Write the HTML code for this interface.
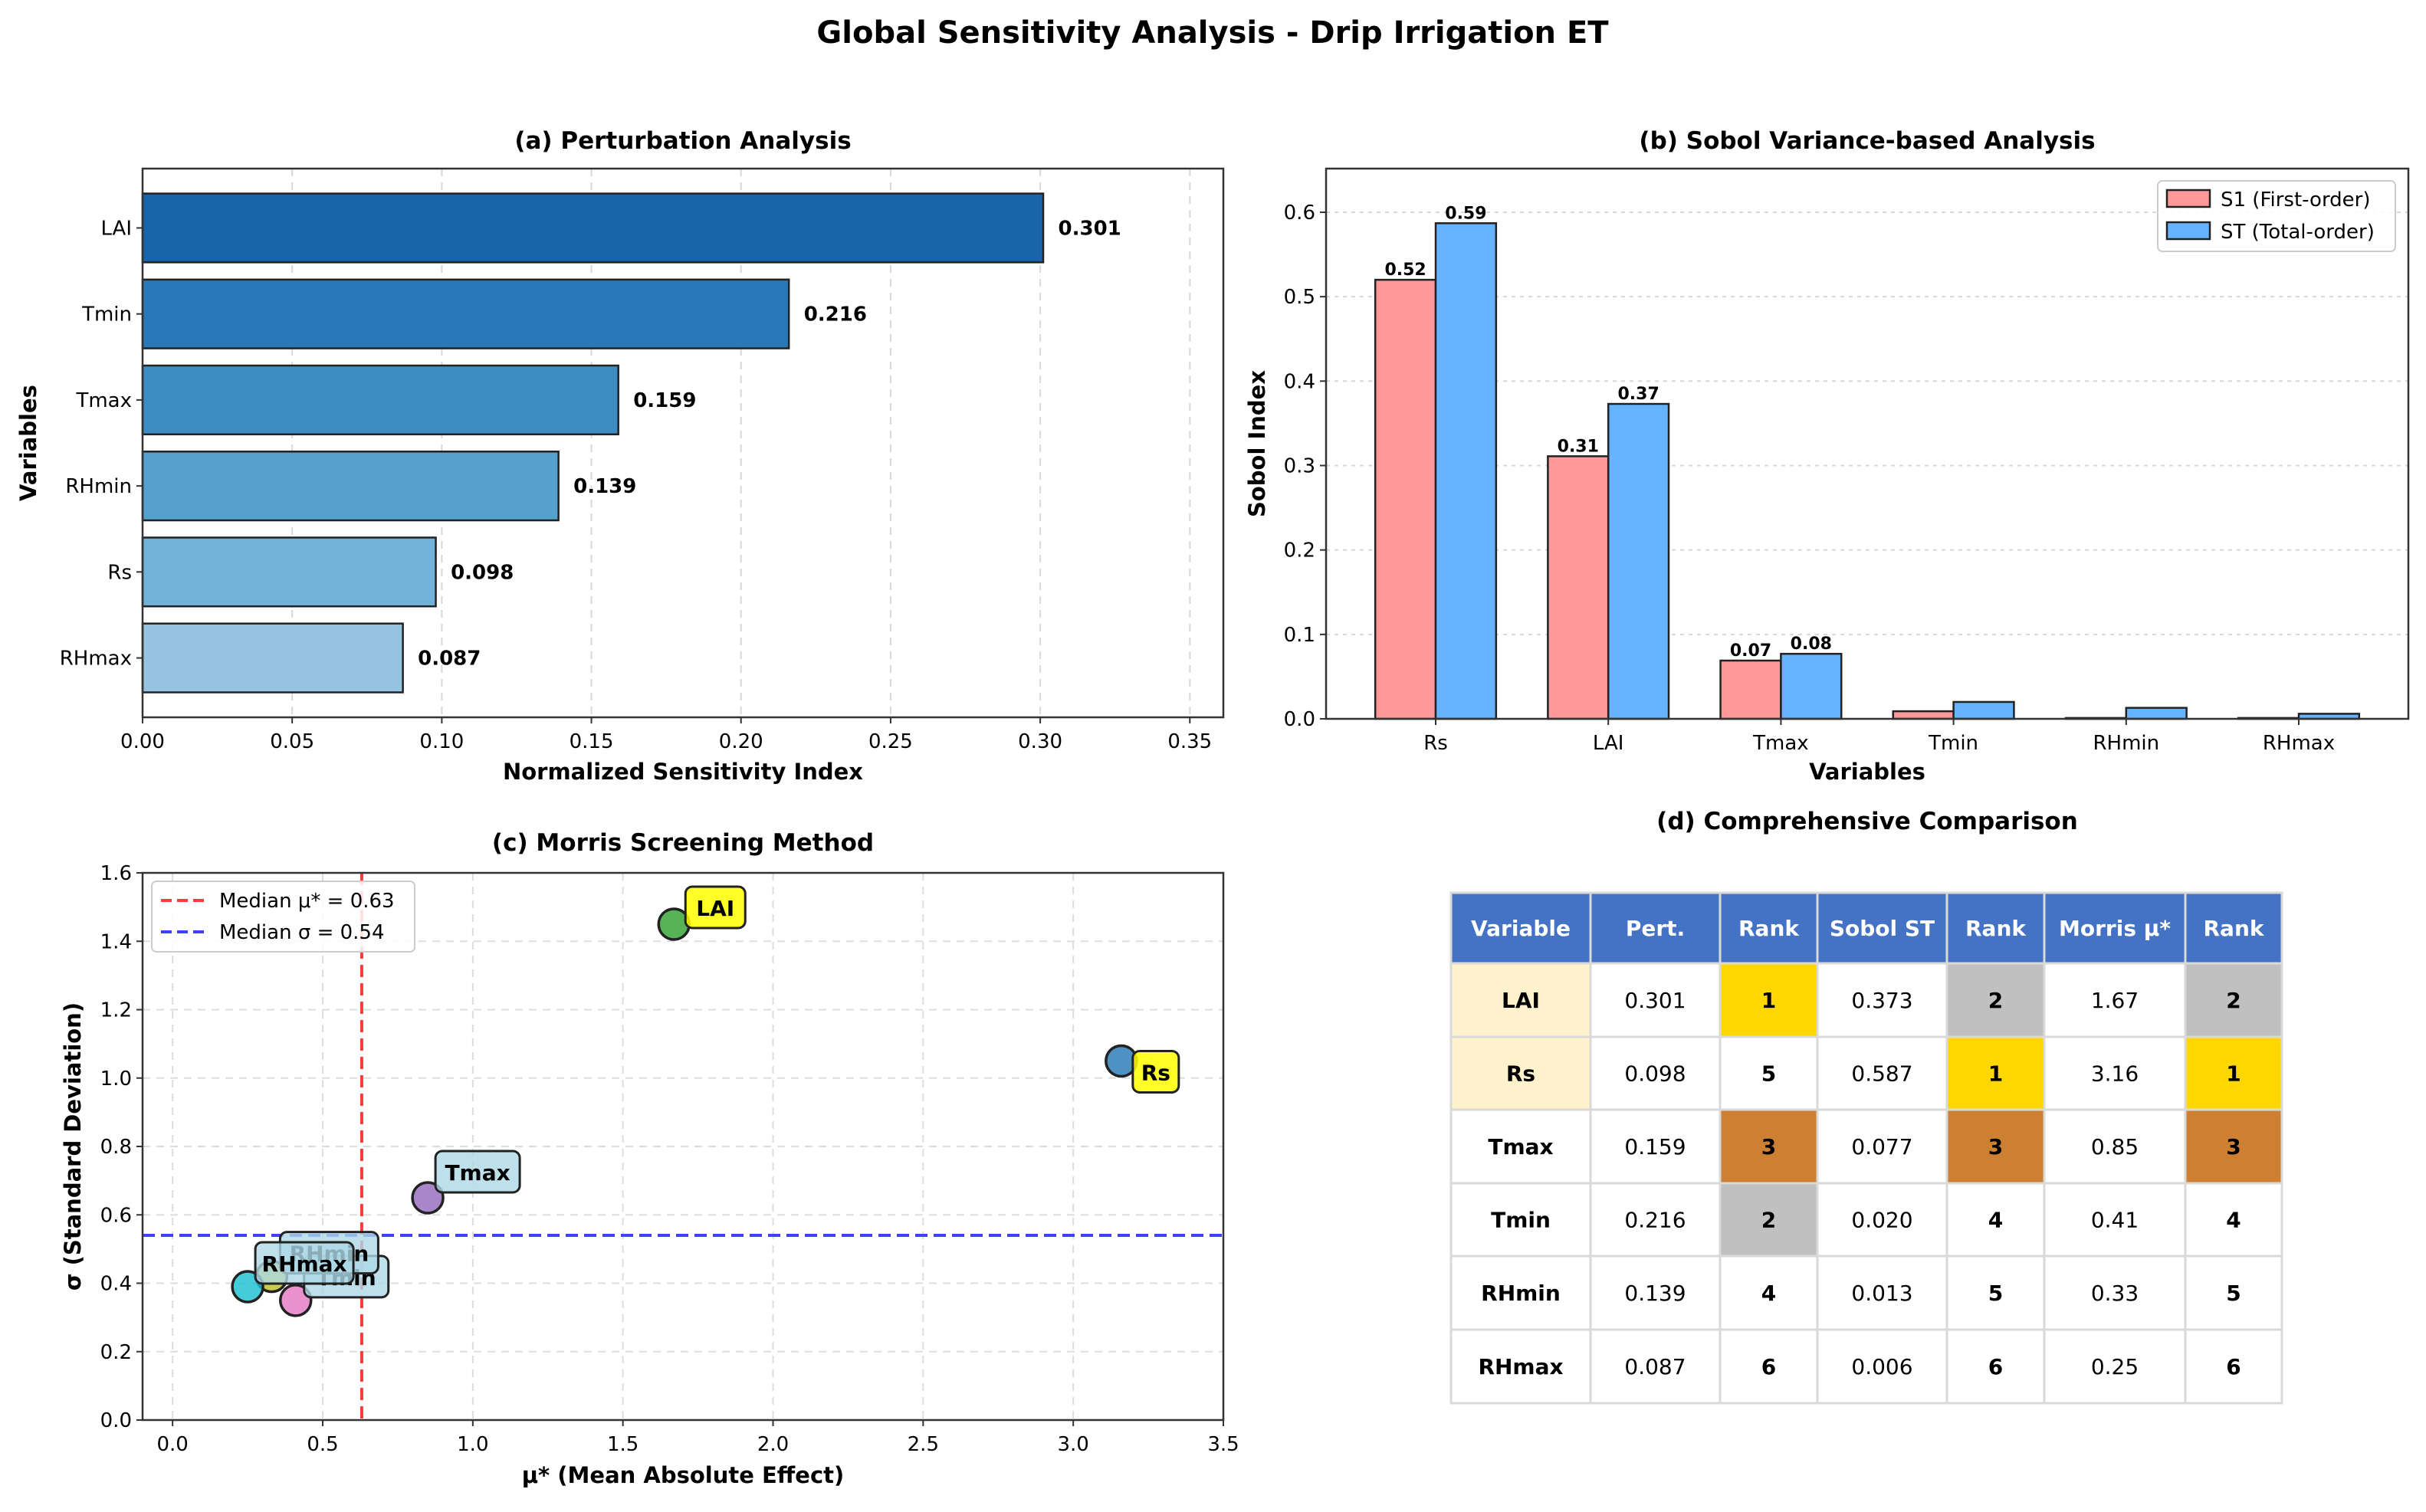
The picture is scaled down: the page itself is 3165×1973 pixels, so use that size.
<!DOCTYPE html>
<html><head><meta charset="utf-8"><title>Global Sensitivity Analysis - Drip Irrigation ET</title>
<style>
html,body{margin:0;padding:0;background:#fff;}
svg{display:block;font-family:"DejaVu Sans","Liberation Sans",sans-serif;}
</style></head>
<body>
<svg id="fig" width="3165" height="1973" viewBox="0 0 3165 1973" xmlns="http://www.w3.org/2000/svg">
<rect width="3165" height="1973" fill="#fff"/>
<text x="1582" y="56" text-anchor="middle" font-size="40" font-weight="bold">Global Sensitivity Analysis - Drip Irrigation ET</text>
</svg>
<script>
// ---- data ----
const pertVars = ["LAI","Tmin","Tmax","RHmin","Rs","RHmax"];
const pertVals = [0.301,0.216,0.159,0.139,0.098,0.087];
const pertTicks = [0,0.05,0.10,0.15,0.20,0.25,0.30,0.35];
const sobolVars = ["Rs","LAI","Tmax","Tmin","RHmin","RHmax"];
const sobolS1 = [0.520,0.311,0.069,0.009,0.001,0.001];
const sobolST = [0.587,0.373,0.077,0.020,0.013,0.006];
const sobolTicks = [0,0.1,0.2,0.3,0.4,0.5,0.6];
const morrisVars = ["LAI","Rs","Tmax","Tmin","RHmin","RHmax"];
const morrisMu = [1.67,3.16,0.85,0.41,0.33,0.25];
const morrisSigma = [1.45,1.05,0.65,0.35,0.42,0.39];
const morrisXTicks = [0,0.5,1.0,1.5,2.0,2.5,3.0,3.5];
const morrisYTicks = [0,0.2,0.4,0.6,0.8,1.0,1.2,1.4,1.6];
const medianMu = 0.63;
const medianSigma = 0.54;
const tableHeader = ["Variable","Pert.","Rank","Sobol ST","Rank","Morris μ*","Rank"];
const tableVars = ["LAI","Rs","Tmax","Tmin","RHmin","RHmax"];
const tablePert = ["0.301","0.098","0.159","0.216","0.139","0.087"];
const tablePertRank = [1,5,3,2,4,6];
const tableSobol = ["0.373","0.587","0.077","0.020","0.013","0.006"];
const tableSobolRank = [2,1,3,4,5,6];
const tableMorris = ["1.67","3.16","0.85","0.41","0.33","0.25"];
const tableMorrisRank = [2,1,3,4,5,6];

// ---- styles ----
const blues = ["#1764ab","#2878b8","#3d8dc4","#56a0ce","#72b2d8","#96c3e0"];
const morrisColors = ["#2ca02c","#1f77b4","#9467bd","#e377c2","#bcbd22","#17becf"];
const labelOffsets = [[15,-49],[15,-13],[10,-61],[11,-58],[11,-58],[10,-58]];
const drawOrder = [0,1,2,3,4,5];

const NS="http://www.w3.org/2000/svg";
const svg=document.getElementById('fig');
function el(tag,attrs,parent,txt){const e=document.createElementNS(NS,tag);for(const k in attrs)e.setAttribute(k,attrs[k]);if(txt!==undefined)e.textContent=txt;(parent||svg).appendChild(e);return e;}
const fmt2=v=>v.toFixed(2), fmt1=v=>v.toFixed(1);

// ================= (a) Perturbation =================
{
const A={l:186,r:1596,t:220,b:936};
const xmax=0.3612, ylo=-0.69, yhi=5.69;
const x=v=>A.l+v/xmax*(A.r-A.l);
const y=i=>A.t+(i-ylo)/(yhi-ylo)*(A.b-A.t);
const g=el('g',{});


pertTicks.forEach(t=>{
  const ln=el('line',{x1:x(t),x2:x(t),y1:A.t,y2:A.b,stroke:'#d8d8d8','stroke-width':2,'stroke-dasharray':'10,8'},g);
  
  
  el('line',{x1:x(t),x2:x(t),y1:A.b,y2:A.b+8,stroke:'#333','stroke-width':2},g);
  const tx=el('text',{x:x(t),y:A.b+40,'text-anchor':'middle','font-size':26},g,t.toFixed(2));
  
  
});
pertVars.forEach((v,i)=>{
  const r=el('rect',{x:x(0),y:y(i)-0.4*(y(1)-y(0)),width:x(pertVals[i])-x(0),height:0.8*(y(1)-y(0)),fill:blues[i],stroke:'#222','stroke-width':2.5},g);
  
  
  const lb=el('text',{x:x(pertVals[i]+0.005),y:y(i)+9,'font-size':26,'font-weight':'bold'},g,pertVals[i].toFixed(3));
  
  
  el('line',{x1:A.l-8,x2:A.l,y1:y(i),y2:y(i),stroke:'#333','stroke-width':2},g);
  const tl=el('text',{x:A.l-14,y:y(i)+9,'text-anchor':'end','font-size':26},g,v);
  
  
});
const fr=el('rect',{x:A.l,y:A.t,width:A.r-A.l,height:A.b-A.t,fill:'none',stroke:'#333','stroke-width':2.5},g);


const t1=el('text',{x:(A.l+A.r)/2,y:194,'text-anchor':'middle','font-size':31,'font-weight':'bold'},g,'(a) Perturbation Analysis');


const xl=el('text',{x:(A.l+A.r)/2,y:1017,'text-anchor':'middle','font-size':29,'font-weight':'bold'},g,'Normalized Sensitivity Index');


const yl=el('text',{x:0,y:0,'text-anchor':'middle','font-size':29,'font-weight':'bold',transform:`translate(47,${(A.t+A.b)/2}) rotate(-90)`},g,'Variables');


}

// ================= (b) Sobol =================
{
const B={l:1730,r:3142,t:220,b:938};
const xlo=-0.635,xhi=5.635,ymax=0.6517,w=0.35;
const x=c=>B.l+(c-xlo)/(xhi-xlo)*(B.r-B.l);
const y=v=>B.b-v/ymax*(B.b-B.t);
const g=el('g',{});


sobolTicks.forEach(t=>{
  if(t>0){const ln=el('line',{x1:B.l,x2:B.r,y1:y(t),y2:y(t),stroke:'#d8d8d8','stroke-width':2,'stroke-dasharray':'5,6'},g);
  
  }
  el('line',{x1:B.l-8,x2:B.l,y1:y(t),y2:y(t),stroke:'#333','stroke-width':2},g);
  const tl=el('text',{x:B.l-14,y:y(t)+9,'text-anchor':'end','font-size':26},g,fmt1(t));
  
  
});
sobolVars.forEach((v,i)=>{
  const r1=el('rect',{x:x(i-w),y:y(sobolS1[i]),width:x(i)-x(i-w),height:y(0)-y(sobolS1[i]),fill:'#ff9999',stroke:'#222','stroke-width':2.5},g);
  
  
  const r2=el('rect',{x:x(i),y:y(sobolST[i]),width:x(i+w)-x(i),height:y(0)-y(sobolST[i]),fill:'#66b3ff',stroke:'#222','stroke-width':2.5},g);
  
  
  if(sobolS1[i]>0.05){const l=el('text',{x:x(i-w/2),y:y(sobolS1[i])-6,'text-anchor':'middle','font-size':22,'font-weight':'bold'},g,fmt2(sobolS1[i]));
    
    }
  if(sobolST[i]>0.05){const l=el('text',{x:x(i+w/2),y:y(sobolST[i])-6,'text-anchor':'middle','font-size':22,'font-weight':'bold'},g,fmt2(sobolST[i]));
    
    }
  el('line',{x1:x(i),x2:x(i),y1:B.b,y2:B.b+8,stroke:'#333','stroke-width':2},g);
  const tl=el('text',{x:x(i),y:B.b+40,'text-anchor':'middle','font-size':26},g,v);
  
  
});
const fr=el('rect',{x:B.l,y:B.t,width:B.r-B.l,height:B.b-B.t,fill:'none',stroke:'#333','stroke-width':2.5},g);


const lg=el('g',{},g);


el('rect',{x:2815,y:236,width:310,height:92,rx:6,fill:'#fff','fill-opacity':0.85,stroke:'#ccc','stroke-width':2},lg);
const e1=el('rect',{x:2827,y:248,width:56,height:22,fill:'#ff9999',stroke:'#222','stroke-width':2.5},lg);


el('text',{x:2897,y:269,'font-size':26},lg,'S1 (First-order)');
const e2=el('rect',{x:2827,y:290,width:56,height:22,fill:'#66b3ff',stroke:'#222','stroke-width':2.5},lg);


el('text',{x:2897,y:311,'font-size':26},lg,'ST (Total-order)');
const t1=el('text',{x:(B.l+B.r)/2,y:194,'text-anchor':'middle','font-size':31,'font-weight':'bold'},g,'(b) Sobol Variance-based Analysis');


const xl=el('text',{x:(B.l+B.r)/2,y:1017,'text-anchor':'middle','font-size':29,'font-weight':'bold'},g,'Variables');


const yl=el('text',{x:0,y:0,'text-anchor':'middle','font-size':29,'font-weight':'bold',transform:`translate(1650,${(B.t+B.b)/2}) rotate(-90)`},g,'Sobol Index');


}

// ================= (c) Morris =================
{
const C={l:186,r:1596,t:1139,b:1853};
const xlo=-0.1,xhi=3.5,ymax=1.6;
const x=v=>C.l+(v-xlo)/(xhi-xlo)*(C.r-C.l);
const y=v=>C.b-v/ymax*(C.b-C.t);
const g=el('g',{});


morrisXTicks.forEach(t=>{
  const ln=el('line',{x1:x(t),x2:x(t),y1:C.t,y2:C.b,stroke:'#dddddd','stroke-width':2,'stroke-dasharray':'10,8'},g);
  
  
  el('line',{x1:x(t),x2:x(t),y1:C.b,y2:C.b+8,stroke:'#333','stroke-width':2},g);
  const tl=el('text',{x:x(t),y:C.b+40,'text-anchor':'middle','font-size':26},g,fmt1(t));
  
  
});
morrisYTicks.forEach(t=>{
  const ln=el('line',{x1:C.l,x2:C.r,y1:y(t),y2:y(t),stroke:'#dddddd','stroke-width':2,'stroke-dasharray':'10,8'},g);
  
  
  el('line',{x1:C.l-8,x2:C.l,y1:y(t),y2:y(t),stroke:'#333','stroke-width':2},g);
  const tl=el('text',{x:C.l-14,y:y(t)+9,'text-anchor':'end','font-size':26},g,fmt1(t));
  
  
});
const mv=el('line',{x1:x(medianMu),x2:x(medianMu),y1:C.t,y2:C.b,stroke:'#ff3b3b','stroke-width':4,'stroke-dasharray':'16,8'},g);


const mh=el('line',{x1:C.l,x2:C.r,y1:y(medianSigma),y2:y(medianSigma),stroke:'#4040ff','stroke-width':4,'stroke-dasharray':'16,8'},g);


drawOrder.forEach(i=>{
  const c=el('circle',{cx:x(morrisMu[i]),cy:y(morrisSigma[i]),r:20,fill:morrisColors[i],'fill-opacity':0.8,stroke:'#222','stroke-width':3.5},g);
  
  
});
drawOrder.forEach(i=>{
  const v=morrisVars[i];
  const px=x(morrisMu[i]),py=y(morrisSigma[i]);
  const tw=v.length*18+ (v.includes('m')?14:0);
  const bw=tw+24,bh=54;
  const bx=px+labelOffsets[i][0],by=py+labelOffsets[i][1];
  const yellow=(i<2);
  const lg=el('g',{},g);
  
  
  el('rect',{x:bx,y:by,width:bw,height:bh,rx:9,fill:yellow?'#ffff00':'#add8e6','fill-opacity':yellow?0.85:0.8,stroke:'#222','stroke-width':3},lg);
  el('text',{x:bx+bw/2,y:by+38,'text-anchor':'middle','font-size':28,'font-weight':'bold'},lg,v);
});
const fr=el('rect',{x:C.l,y:C.t,width:C.r-C.l,height:C.b-C.t,fill:'none',stroke:'#333','stroke-width':2.5},g);


const lg=el('g',{},g);


el('rect',{x:198,y:1150,width:343,height:92,rx:6,fill:'#fff','fill-opacity':0.85,stroke:'#ccc','stroke-width':2},lg);
el('line',{x1:210,x2:266,y1:1175,y2:1175,stroke:'#ff3b3b','stroke-width':4,'stroke-dasharray':'14,7'},lg);
el('text',{x:286,y:1184,'font-size':26},lg,'Median μ* = '+medianMu.toFixed(2));
el('line',{x1:210,x2:266,y1:1216,y2:1216,stroke:'#4040ff','stroke-width':4,'stroke-dasharray':'14,7'},lg);
el('text',{x:286,y:1225,'font-size':26},lg,'Median σ = '+medianSigma.toFixed(2));
const t1=el('text',{x:(C.l+C.r)/2,y:1110,'text-anchor':'middle','font-size':31,'font-weight':'bold'},g,'(c) Morris Screening Method');


const xl=el('text',{x:(C.l+C.r)/2,y:1935,'text-anchor':'middle','font-size':29,'font-weight':'bold'},g,'μ* (Mean Absolute Effect)');


const yl=el('text',{x:0,y:0,'text-anchor':'middle','font-size':29,'font-weight':'bold',transform:`translate(105,${(C.t+C.b)/2}) rotate(-90)`},g,'σ (Standard Deviation)');


}

// ================= (d) Table =================
{
const cols=[1893,2075,2244,2371,2540,2667,2851,2977];
const rows=[1165,1257,1353,1448,1544,1639,1735,1831];
const rankColor=r=>r===1?'#ffd700':r===2?'#c0c0c0':r===3?'#cd7f32':'#fff';
const g=el('g',{});


const t1=el('text',{x:2436,y:1082,'text-anchor':'middle','font-size':31,'font-weight':'bold'},g,'(d) Comprehensive Comparison');


function cell(ci,ri,txt,fill,bold,color,name){
  const cg=el('g',{},g);
  
  
  el('rect',{x:cols[ci],y:rows[ri],width:cols[ci+1]-cols[ci],height:rows[ri+1]-rows[ri],fill:fill,stroke:'#d9d9d9','stroke-width':3},cg);
  el('text',{x:(cols[ci]+cols[ci+1])/2,y:(rows[ri]+rows[ri+1])/2+10,'text-anchor':'middle','font-size':28,'font-weight':bold?'bold':'normal',fill:color},cg,txt);
}
tableHeader.forEach((h,c)=>cell(c,0,h,'#4472c4',true,'#fff','header-cell'));
tableVars.forEach((v,r)=>{
  const ri=r+1;
  cell(0,ri,v,r<2?'#fff2cc':'#fff',true,'#000','variable-cell');
  cell(1,ri,tablePert[r],'#fff',false,'#000','pert-value-cell');
  cell(2,ri,String(tablePertRank[r]),rankColor(tablePertRank[r]),true,'#000','pert-rank-cell');
  cell(3,ri,tableSobol[r],'#fff',false,'#000','sobol-value-cell');
  cell(4,ri,String(tableSobolRank[r]),rankColor(tableSobolRank[r]),true,'#000','sobol-rank-cell');
  cell(5,ri,tableMorris[r],'#fff',false,'#000','morris-value-cell');
  cell(6,ri,String(tableMorrisRank[r]),rankColor(tableMorrisRank[r]),true,'#000','morris-rank-cell');
});
}
</script>
</body></html>
